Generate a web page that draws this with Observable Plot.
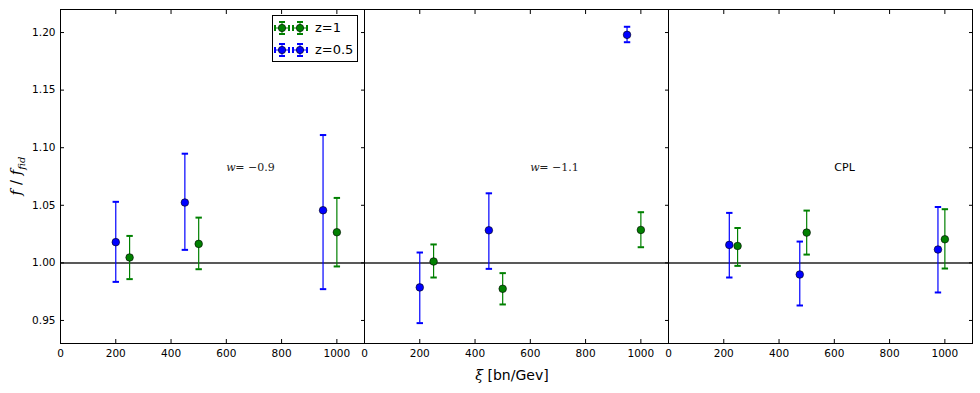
<!DOCTYPE html>
<html><head><meta charset="utf-8">
<script src="https://cdn.jsdelivr.net/npm/d3@7"></script>
<script src="https://cdn.jsdelivr.net/npm/@observablehq/plot@0.6"></script>
<style>
body{margin:0;background:#fff;}
#wrap{position:relative;width:980px;height:393px;font-family:"DejaVu Sans",sans-serif;color:#000;}
#wrap svg{display:block;}
.legend{position:absolute;left:272px;top:15px;width:84px;height:45px;border:1px solid #000;background:#fff;}
.legend .row{position:absolute;left:0;height:20px;line-height:20px;font-size:13px;}
.legend .row span{position:absolute;left:42px;top:0;white-space:nowrap;}
.xlabel{position:absolute;left:412px;width:200px;top:366px;text-align:center;font-size:14px;line-height:18px;}
.ylabel{position:absolute;left:-34px;top:166px;width:100px;height:20px;line-height:20px;text-align:center;transform:rotate(-90deg);font-family:"DejaVu Serif",serif;font-size:15px;}
.ylabel sub{font-size:10px;}
</style></head><body><div id="wrap"></div>
<script>
// Panels (facets)
const panelIds = ["w=-0.9", "w=-1.1", "CPL"];
const mathLabels = ["= \u22120.9", "= \u22121.1", null];
const plainLabels = [null, null, "CPL"];
const labelX = 600;
const labelY = 1.083;

// Series z=0.5 (blue)
const xBlue = [[200, 450, 950], [200, 450, 950], [220, 475, 975]];
const yBlue = [[1.018, 1.0524, 1.0457], [0.9787, 1.0283, 1.198], [1.0156, 0.9899, 1.0116]];
const loBlue = [[0.9835, 1.0113, 0.9772], [0.9477, 0.9948, 1.1916], [0.9873, 0.963, 0.9743]];
const hiBlue = [[1.053, 1.0948, 1.111], [1.009, 1.0604, 1.205], [1.0434, 1.0185, 1.0485]];

// Series z=1 (green)
const xGreen = [[250, 500, 1000], [250, 500, 1000], [250, 500, 1000]];
const yGreen = [[1.0047, 1.0165, 1.0266], [1.0012, 0.9775, 1.0286], [1.0147, 1.0263, 1.0205]];
const loGreen = [[0.9859, 0.9945, 0.9969], [0.9873, 0.9639, 1.0136], [0.9974, 1.0072, 0.9951]];
const hiGreen = [[1.0234, 1.0393, 1.0564], [1.016, 0.9911, 1.044], [1.0303, 1.0454, 1.0466]];

// Ticks
const xTicks = [0, 200, 400, 600, 800, 1000];
const yTicks = [0.95, 1.00, 1.05, 1.10, 1.15, 1.20];

const seriesNames = ["z=1", "z=0.5"];
const seriesColors = ["#008000", "#0000ff"];

function rows(X, Y, LO, HI) {
  const out = [];
  panelIds.forEach((p, i) => X[i].forEach((x, j) => out.push({panel: p, x, y: Y[i][j], lo: LO[i][j], hi: HI[i][j]})));
  return out;
}
const green = rows(xGreen, yGreen, loGreen, hiGreen);
const blue = rows(xBlue, yBlue, loBlue, hiBlue);

const capSymbol = {draw(ctx, size) { const r = Math.sqrt(size / Math.PI); ctx.moveTo(-r, 0); ctx.lineTo(r, 0); }};

function seriesMarks(data, color) {
  return [
    Plot.ruleX(data, {fx: "panel", x: "x", y1: "lo", y2: "hi", stroke: color, strokeWidth: 1.2}),
    Plot.dot(data, {fx: "panel", x: "x", y: "lo", symbol: capSymbol, r: 3.2, stroke: color, strokeWidth: 2, fill: "none"}),
    Plot.dot(data, {fx: "panel", x: "x", y: "hi", symbol: capSymbol, r: 3.2, stroke: color, strokeWidth: 2, fill: "none"}),
    Plot.dot(data, {fx: "panel", x: "x", y: "y", r: 3.8, fill: color, stroke: "#000", strokeWidth: 0.6})
  ];
}

const mathAnn = panelIds.map((p, i) => ({panel: p, x: labelX, y: labelY, t: mathLabels[i]})).filter(d => d.t);
const plainAnn = panelIds.map((p, i) => ({panel: p, x: labelX, y: labelY, t: plainLabels[i]})).filter(d => d.t);

const chart = Plot.plot({
  width: 980, height: 393,
  marginTop: 9, marginBottom: 50, marginLeft: 60, marginRight: 8,
  style: {fontFamily: "DejaVu Sans, sans-serif", fontSize: "10.5px", color: "#000", background: "#fff", overflow: "visible"},
  fx: {domain: panelIds, padding: 0, axis: null},
  x: {domain: [0, 1100]},
  y: {domain: [0.93, 1.22]},
  marks: [
    Plot.ruleY([1], {stroke: "#222", strokeWidth: 1.5}),
    ...seriesMarks(green, seriesColors[0]),
    ...seriesMarks(blue, seriesColors[1]),
    Plot.text(mathAnn, {fx: "panel", x: "x", y: "y", text: () => "w", textAnchor: "start", fontFamily: "DejaVu Serif, serif", fontStyle: "italic", fontSize: 11, fill: "#222"}),
    Plot.text(mathAnn, {fx: "panel", x: "x", y: "y", text: "t", dx: 9, textAnchor: "start", fontFamily: "DejaVu Serif, serif", fontSize: 11, fill: "#222"}),
    Plot.text(plainAnn, {fx: "panel", x: "x", y: "y", text: "t", textAnchor: "start", fontSize: 11, fill: "#000"}),
    Plot.axisX(xTicks, {anchor: "bottom", tickSize: -4, tickFormat: () => "", label: null}),
    Plot.axisX(xTicks, {anchor: "bottom", tickSize: 0, tickPadding: 6, tickFormat: d => String(d), label: null, fontSize: 10.5}),
    Plot.axisX(xTicks, {anchor: "top", tickSize: -4, tickFormat: () => "", label: null}),
    Plot.axisY(yTicks, {anchor: "left", tickSize: -4, tickFormat: () => "", label: null}),
    Plot.axisY(yTicks, {anchor: "left", tickSize: 0, tickPadding: 5, tickFormat: d3.format(".2f"), label: null, fontSize: 10.5}),
    Plot.axisY(yTicks, {anchor: "right", tickSize: -4, tickFormat: () => "", label: null, facetAnchor: null}),
    Plot.frame({stroke: "#000", strokeWidth: 1})
  ]
});

const wrap = document.getElementById("wrap");
wrap.appendChild(chart);

// Legend
function icon(color, cx, cy) {
  return `<g stroke="${color}" fill="none">
    <line x1="${cx}" y1="${cy - 6}" x2="${cx}" y2="${cy + 6}" stroke-width="1"/>
    <line x1="${cx - 3}" y1="${cy - 6}" x2="${cx + 3}" y2="${cy - 6}" stroke-width="2"/>
    <line x1="${cx - 3}" y1="${cy + 6}" x2="${cx + 3}" y2="${cy + 6}" stroke-width="2"/>
    <line x1="${cx - 7}" y1="${cy}" x2="${cx + 7}" y2="${cy}" stroke-width="1"/>
    <line x1="${cx - 7}" y1="${cy - 3}" x2="${cx - 7}" y2="${cy + 3}" stroke-width="2"/>
    <line x1="${cx + 7}" y1="${cy - 3}" x2="${cx + 7}" y2="${cy + 3}" stroke-width="2"/>
  </g>
  <circle cx="${cx}" cy="${cy}" r="3.7" fill="${color}" stroke="#000" stroke-width="0.6"/>`;
}
const legend = document.createElement("div");
legend.className = "legend";
legend.innerHTML = seriesNames.map((name, i) => `
  <div class="row" style="top:${i === 0 ? 2 : 24}px;width:84px;">
    <svg width="40" height="20" style="position:absolute;left:0;top:0;">${icon(seriesColors[i], 9, 10)}${icon(seriesColors[i], 27, 10)}</svg>
    <span>${name}</span>
  </div>`).join("");
wrap.appendChild(legend);

const xl = document.createElement("div");
xl.className = "xlabel";
xl.innerHTML = `<span style="font-family:'DejaVu Serif',serif;font-style:italic;">\u03be</span> [bn/Gev]`;
wrap.appendChild(xl);

const yl = document.createElement("div");
yl.className = "ylabel";
yl.innerHTML = `<i>f</i> / <i>f</i><sub><i>fid</i></sub>`;
wrap.appendChild(yl);
</script>
</body></html>
